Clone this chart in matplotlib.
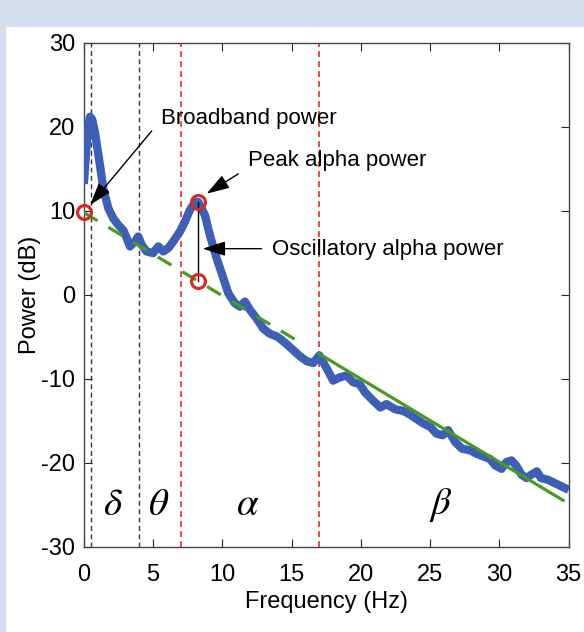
import matplotlib
matplotlib.use("Agg")
import matplotlib.pyplot as plt
from matplotlib.patches import Rectangle

# power spectrum
freq = [0, 0.15, 0.3, 0.45, 0.6, 0.8, 1.17, 1.4, 1.77, 2.13, 2.5, 2.85, 3.1, 3.33, 3.7, 3.93,
        4.18, 4.53, 5.0, 5.38, 5.74, 6.1, 6.46, 6.94, 7.3, 7.66, 8.0, 8.26, 8.74,
        9.1, 9.59, 10.07, 10.43, 10.9, 11.27, 11.63, 12.0, 12.47, 12.95, 13.4, 14.0,
        14.6, 15.1, 15.6, 16.1, 16.56, 17.0, 17.5, 18.0, 18.5, 18.97, 19.45, 19.9,
        20.3, 20.77, 21.4, 21.85, 22.45, 23.05, 23.5, 24.0, 24.5, 25.0, 25.45, 25.9,
        26.3, 26.8, 27.3, 27.9, 28.35, 28.95, 29.3, 29.7, 30.15, 30.5, 30.87, 31.2,
        31.6, 31.95, 32.3, 32.7, 33.0, 33.5, 34.0, 34.5, 35.0]
power = [13.2, 16.6, 19.8, 21.2, 20.9, 19.4, 15.4, 12.7, 10.3, 9.1, 8.3, 7.7, 6.75, 5.77, 6.36, 6.95,
         5.96, 5.17, 4.97, 5.77, 5.17, 5.57, 6.36, 7.54, 8.7, 10.1, 11.0, 11.05, 9.5,
         7.1, 4.35, 2.0, 0.2, -1.0, -1.4, -0.8, -1.8, -2.8, -4.0, -4.6, -5.0,
         -5.8, -6.55, -7.3, -7.9, -8.1, -7.2, -8.65, -10.2, -9.8, -9.6, -10.4, -10.6,
         -11.6, -12.4, -13.4, -13.0, -13.6, -13.8, -14.2, -14.75, -15.3, -15.7, -16.5, -16.7,
         -16.1, -17.5, -18.3, -18.5, -18.9, -19.3, -19.5, -20.3, -20.7, -19.9, -19.7, -20.3,
         -21.4, -21.8, -21.4, -21.0, -21.8, -22.0, -22.4, -22.8, -23.2]

# 1/f fit line, dashed part and solid part
fit_dash_f = [0, 16]
fit_dash_p = [9.8, -6.04]
fit_solid_f = [17, 34.6]
fit_solid_p = [-7.03, -24.45]

# marked points
circle_f = [0, 8.26, 8.26]
circle_p = [9.85, 11.05, 1.62]

# band borders and band names
black_lines = [0.5, 4]
red_lines = [7, 17]
band_names = [r"$\delta$", r"$\theta$", r"$\alpha$", r"$\beta$"]
band_pos = [2.1, 5.4, 11.85, 25.8]

plt.rcParams["font.family"] = ["Liberation Sans", "DejaVu Sans"]
plt.rcParams["mathtext.fontset"] = "stix"
plt.rcParams["axes.unicode_minus"] = False

fig = plt.figure(figsize=(5.84, 6.32), dpi=100)
#light blue frame round the panel
fig.patches.append(Rectangle((0, 1 - 26 / 632), 1, 26 / 632, transform=fig.transFigure,
                             color="#d5deef", zorder=0))
fig.patches.append(Rectangle((0, 0), 5 / 584, 1, transform=fig.transFigure,
                             color="#d5deef", zorder=0))

ax = fig.add_axes([0.1435, 0.1345, 0.8303, 0.7978])

for x in black_lines:
    ax.axvline(x, color="#333333", lw=1.0, ls=(0, (3.5, 2.5)), zorder=1)
for x in red_lines:
    ax.axvline(x, color="#e8282a", lw=1.2, ls=(0, (3.5, 2.5)), zorder=1)

ax.plot(freq, power, color="#3d5fb5", lw=6.0, solid_capstyle="butt",
        solid_joinstyle="round", zorder=3)
ax.plot(fit_dash_f, fit_dash_p, color="#4a9a20", lw=2.3, ls=(0, (5, 4)), zorder=4)
ax.plot(fit_solid_f, fit_solid_p, color="#4a9a20", lw=2.3, zorder=4)

#line between peak and fit
ax.plot([circle_f[1], circle_f[2]], [circle_p[1], circle_p[2]], color="black",
        lw=1.0, zorder=5)
ax.plot(circle_f, circle_p, "o", mfc="none", mec="#d42a2a", ms=10, mew=2.3,
        clip_on=False, zorder=6)

arrow = dict(arrowstyle="-|>,head_length=1.4,head_width=0.45", color="black",
             lw=1.0, shrinkA=0, shrinkB=0)
ax.annotate("", xy=(0.45, 10.7), xytext=(4.9, 19.5), arrowprops=arrow)
ax.text(5.6, 21.0, "Broadband power", fontsize=16, va="center", ha="left")
ax.annotate("", xy=(8.87, 12.05), xytext=(11.15, 14.4), arrowprops=arrow)
ax.text(11.87, 16.0, "Peak alpha power", fontsize=16, va="center", ha="left")
ax.annotate("", xy=(8.58, 5.5), xytext=(12.83, 5.5), arrowprops=arrow)
ax.text(13.6, 5.45, "Oscillatory alpha power", fontsize=16, va="center", ha="left")

for name, x in zip(band_names, band_pos):
    ax.text(x, -25, name, fontsize=28, ha="center", va="center")

ax.set_xlim(0, 35)
ax.set_ylim(-30, 30)
ax.set_xticks([0, 5, 10, 15, 20, 25, 30, 35])
ax.set_yticks([-30, -20, -10, 0, 10, 20, 30])
ax.tick_params(direction="in", top=True, right=True, length=5.5, width=0.8,
               labelsize=17, colors="#262626", pad=6)
ax.tick_params(axis="x", pad=12)
ax.tick_params(axis="both", labelcolor="black")
for s in ax.spines.values():
    s.set_color("#444444")
    s.set_linewidth(1.0)
ax.set_xlabel("Frequency (Hz)", fontsize=17, labelpad=4)
ax.set_ylabel("Power (dB)", fontsize=17, labelpad=0)

fig.savefig("out.png", dpi=100)
